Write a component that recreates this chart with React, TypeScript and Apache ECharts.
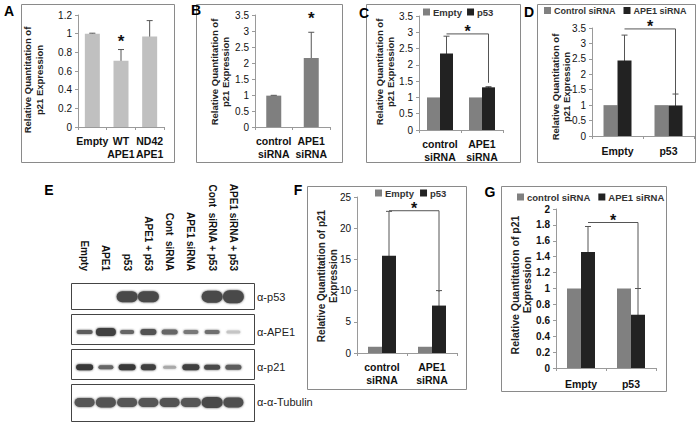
import React, { useEffect, useRef } from "react";
import * as echarts from "echarts";

const FONT = "'Liberation Sans', Arial, Helvetica, sans-serif";

// Panel A
const catsA = ["Empty", "WT\nAPE1", "ND42\nAPE1"];
const valsA = [1.0, 0.71, 0.97];
const loA = [0.995, 0.59, 0.8];
const hiA = [1.005, 0.83, 1.14];
// Panel B
const catsB = ["control\nsiRNA", "APE1\nsiRNA"];
const valsB = [0.98, 2.16];
const loB = [0.97, 1.36];
const hiB = [0.99, 2.96];
// Panel C
const catsC = ["control\nsiRNA", "APE1\nsiRNA"];
const emptyC = [1.0, 1.0];
const p53C = [2.35, 1.31];
const p53CLo = [1.82, 1.29];
const p53CHi = [2.88, 1.33];
// Panel D
const catsD = ["Empty", "p53"];
const ctrlD = [1.0, 1.0];
const apeD = [2.45, 0.99];
const apeDLo = [1.62, 0.62];
const apeDHi = [3.27, 1.36];
// Panel F
const catsF = ["control\nsiRNA", "APE1\nsiRNA"];
const emptyF = [1.0, 1.0];
const p53F = [15.6, 7.6];
const p53FLo = [8.4, 5.1];
const p53FHi = [22.7, 10.0];
// Panel G
const catsG = ["Empty", "p53"];
const ctrlG = [1.0, 1.0];
const apeG = [1.46, 0.67];
const apeGLo = [1.14, 0.34];
const apeGHi = [1.78, 1.0];

// Panel E (western blot)
const lanes = ["Empty", "APE1", "p53", "APE1 + p53", "Cont  siRNA", "APE1 siRNA", "Cont  siRNA + p53", "APE1 siRNA + p53"];
const blotRows = ["α-p53", "α-APE1", "α-p21", "α-α-Tubulin"];
// [lane, row, intensity, thickness, width]
const bands = [
  [2, 0, 0.85, 11, 21], [3, 0, 0.85, 11, 21], [6, 0, 0.85, 12, 21], [7, 0, 0.85, 13, 21],
  [0, 1, 0.75, 4, 16], [1, 1, 0.9, 8, 20], [2, 1, 0.7, 4, 14], [3, 1, 0.8, 6, 16],
  [4, 1, 0.7, 5, 16], [5, 1, 0.6, 4, 15], [6, 1, 0.65, 4, 15], [7, 1, 0.2, 3, 14],
  [0, 2, 0.95, 6, 17], [1, 2, 0.7, 4, 15], [2, 2, 0.95, 6, 17], [3, 2, 0.9, 6, 15],
  [4, 2, 0.35, 3, 13], [5, 2, 0.9, 6, 17], [6, 2, 0.85, 5, 16], [7, 2, 0.75, 5, 16],
  [0, 3, 0.78, 9, 20], [1, 3, 0.8, 10, 20], [2, 3, 0.78, 9, 20], [3, 3, 0.78, 9, 20],
  [4, 3, 0.8, 9, 20], [5, 3, 0.78, 9, 20], [6, 3, 0.85, 11, 21], [7, 3, 0.82, 10, 20],
];

const GRAY = "#808080";
const DARK = "#222222";
const ERR = "#555555";

function yAx(grid: number, max: number, interval: number, fs: number, bold = false) {
  return {
    type: "value", gridIndex: grid, min: 0, max, interval,
    axisLine: { show: true, lineStyle: { color: "#9a9a9a" } },
    axisTick: { show: true, length: 3, lineStyle: { color: "#9a9a9a" } },
    splitLine: { show: false },
    axisLabel: { fontSize: fs, color: "#111", margin: 6, fontFamily: FONT, fontWeight: bold ? "bold" : "normal" },
  };
}
function xAx(grid: number, data: string[], margin: number, fs = 10.5) {
  return {
    type: "category", gridIndex: grid, data,
    axisLine: { show: true, lineStyle: { color: "#9a9a9a" } },
    axisTick: { show: true, length: 3, lineStyle: { color: "#9a9a9a" } },
    axisLabel: { fontSize: fs, fontWeight: "bold", color: "#111", margin, lineHeight: 13, interval: 0, fontFamily: FONT },
  };
}
function bar(grid: number, name: string, data: number[], color: string, bw: number) {
  return {
    type: "bar", name, xAxisIndex: grid, yAxisIndex: grid, data, barWidth: bw, barGap: "0%",
    itemStyle: { color }, silent: true,
  };
}
function errs(grid: number, lo: number[], hi: number[], off: number) {
  return {
    type: "custom", xAxisIndex: grid, yAxisIndex: grid, silent: true,
    data: lo.map((l, i) => [i, l, hi[i]]),
    renderItem: (_p: any, api: any) => {
      const c = api.value(0);
      const a = api.coord([c, api.value(1)]);
      const b = api.coord([c, api.value(2)]);
      const x = a[0] + off;
      const st = { stroke: ERR, lineWidth: 1 };
      return {
        type: "group", children: [
          { type: "line", shape: { x1: x, y1: a[1], x2: x, y2: b[1] }, style: st },
          { type: "line", shape: { x1: x - 3, y1: b[1], x2: x + 3, y2: b[1] }, style: st },
          { type: "line", shape: { x1: x - 3, y1: a[1], x2: x + 3, y2: a[1] }, style: st },
        ],
      };
    },
  };
}
// bracket: [cat0, cat1, level, drop]
function bracket(grid: number, spec: number[], off: number) {
  return {
    type: "custom", xAxisIndex: grid, yAxisIndex: grid, silent: true,
    data: [spec],
    renderItem: (_p: any, api: any) => {
      const p0 = api.coord([api.value(0), api.value(2)]);
      const p1 = api.coord([api.value(1), api.value(2)]);
      const p2 = api.coord([api.value(1), api.value(3)]);
      const x0 = p0[0] + off, x1 = p1[0] + off;
      return {
        type: "group", children: [
          { type: "polyline", shape: { points: [[x0, p0[1]], [x1, p1[1]], [x1, p2[1]]] }, style: { stroke: ERR, lineWidth: 1, fill: null } },
          { type: "text", x: (x0 + x1) / 2, y: p0[1] - 2, style: { text: "*", fontSize: 16, fontWeight: "bold", fill: "#111", align: "center", verticalAlign: "middle", fontFamily: FONT } },
        ],
      };
    },
  };
}
function star(grid: number, cat: number, val: number) {
  return {
    type: "custom", xAxisIndex: grid, yAxisIndex: grid, silent: true,
    data: [[cat, val]],
    renderItem: (_p: any, api: any) => {
      const p = api.coord([api.value(0), api.value(1)]);
      return { type: "text", x: p[0], y: p[1], style: { text: "*", fontSize: 17, fontWeight: "bold", fill: "#111", align: "center", verticalAlign: "middle", fontFamily: FONT } };
    },
  };
}
function legend(left: number, top: number, data: string[], gap: number, fs = 10) {
  return {
    left, top, data, icon: "rect", itemWidth: 7, itemHeight: 7, itemGap: gap,
    selectedMode: false, padding: 0, width: 220, orient: "horizontal",
    textStyle: { fontSize: fs, fontWeight: "bold", color: "#333", fontFamily: FONT, padding: [0, 0, 0, -2] },
  };
}
function frame(x: number, y: number, w: number, h: number, stroke = "#8a8a8a") {
  return { type: "rect", shape: { x, y, width: w, height: h }, style: { fill: "none", stroke, lineWidth: 1 }, silent: true };
}
function letter(t: string, x: number, y: number) {
  return { type: "text", x, y, style: { text: t, fontSize: 14, fontWeight: "bold", fill: "#000", fontFamily: FONT, align: "center", verticalAlign: "middle" } };
}
function yName(t: string, x: number, y: number, fs: number) {
  return { type: "text", x, y, rotation: Math.PI / 2, style: { text: t, fontSize: fs, fontWeight: "bold", fill: "#222", fontFamily: FONT, align: "center", verticalAlign: "middle", lineHeight: fs + 2 } };
}

export default function App() {
  const ref = useRef<HTMLDivElement>(null);
  useEffect(() => {
    document.body.style.margin = "0";
    const chart = echarts.init(ref.current!, undefined, { renderer: "svg" });
    const option: any = {
      animation: false,
      backgroundColor: "#fff",
      textStyle: { fontFamily: FONT },
      grid: [
        { left: 78, top: 15, width: 86, height: 112 },   // A 0
        { left: 255, top: 15, width: 75, height: 112 },  // B 1
        { left: 419, top: 16, width: 84, height: 114 },  // C 2
        { left: 592, top: 28, width: 102, height: 108 }, // D 3
        { left: 357, top: 197, width: 100, height: 156 }, // F 4
        { left: 556, top: 209, width: 100, height: 159 }, // G 5
        { left: 74, top: 279, width: 170, height: 141 },  // E blot 6
      ],
      xAxis: [
        xAx(0, catsA, 7), xAx(1, catsB, 7), xAx(2, catsC, 7), xAx(3, catsD, 8),
        xAx(4, catsF, 7), xAx(5, catsG, 9),
        {
          type: "category", gridIndex: 6, data: lanes, position: "top",
          axisLine: { show: false }, axisTick: { show: false },
          axisLabel: { rotate: 90, interval: 0, fontSize: 10, fontWeight: "bold", color: "#111", margin: 8, fontFamily: FONT },
        },
      ],
      yAxis: [
        yAx(0, 1.2, 0.2, 10), yAx(1, 3.5, 0.5, 10), yAx(2, 3.5, 0.5, 10), yAx(3, 3.5, 0.5, 10),
        yAx(4, 25, 5, 10), yAx(5, 2, 0.2, 10, true),
        {
          type: "category", gridIndex: 6, data: blotRows, inverse: true, position: "right",
          axisLine: { show: false }, axisTick: { show: false }, splitLine: { show: false },
          axisLabel: { fontSize: 11, color: "#222", margin: 13, fontFamily: FONT },
        },
      ],
      legend: [
        legend(423, 7, ["Empty", "p53"], 5, 9.5),
        legend(544, 6, ["Control siRNA", "APE1 siRNA"], 8, 9),
        legend(375, 188, ["Empty", "p53"], 6, 9.5),
        legend(517, 192, ["control siRNA", "APE1 siRNA"], 8, 9.5),
      ],
      series: [
        bar(0, "A", valsA, "#c0c0c0", 15), errs(0, loA, hiA, 0), star(0, 1, 0.92),
        bar(1, "B", valsB, "#7f7f7f", 15), errs(1, loB, hiB, 0), star(1, 1, 3.4),
        bar(2, "Empty", emptyC, GRAY, 13), bar(2, "p53", p53C, DARK, 13), errs(2, p53CLo, p53CHi, 6.5),
        bracket(2, [0, 1, 2.95, 1.45], 6.5),
        bar(3, "Control siRNA", ctrlD, GRAY, 14), bar(3, "APE1 siRNA", apeD, DARK, 14), errs(3, apeDLo, apeDHi, 7),
        bracket(3, [0, 1, 3.47, 1.35], 7),
        bar(4, "Empty", emptyF, GRAY, 14), bar(4, "p53", p53F, DARK, 14), errs(4, p53FLo, p53FHi, 7),
        bracket(4, [0, 1, 22.8, 9.8], 7),
        bar(5, "control siRNA", ctrlG, GRAY, 14), bar(5, "APE1 siRNA", apeG, DARK, 14), errs(5, apeGLo, apeGHi, 7),
        bracket(5, [0, 1, 1.83, 1.0], 7),
        {
          type: "custom", xAxisIndex: 6, yAxisIndex: 6, silent: true, data: bands,
          renderItem: (_p: any, api: any) => {
            const c = api.coord([api.value(0), api.value(1)]);
            const i = api.value(2), t = api.value(3), w = api.value(4);
            const v = Math.round(235 - i * 190);
            const col = `rgb(${v},${v},${v})`;
            return {
              type: "rect",
              shape: { x: c[0] - w / 2, y: c[1] - t / 2, width: w, height: t, r: t / 2 },
              style: { fill: col, shadowBlur: 2, shadowColor: col },
            };
          },
        },
      ],
      graphic: [
        frame(21.5, 4.5, 153, 158), frame(196.5, 4.5, 146, 158), frame(366.5, 4.5, 154, 158), frame(537.5, 4.5, 158, 158),
        frame(307.5, 186.5, 159, 203), frame(501.5, 186.5, 165, 205),
        frame(71.5, 283.5, 183, 26, "#444"), frame(71.5, 314.5, 183, 30, "#444"),
        frame(71.5, 349.5, 183, 30, "#444"), frame(71.5, 384.5, 183, 37, "#444"),
        letter("A", 9, 11), letter("B", 196, 10), letter("C", 364, 13), letter("D", 529, 12),
        letter("E", 49, 190), letter("F", 298, 190), letter("G", 490, 192),
        yName("Relative Quantitation of\np21 Expression", 33.5, 80, 9.5),
        yName("Relative Quantitation of\np21 Expression", 220, 72, 9.5),
        yName("Relative Quantitation of\np21 Expression", 385, 72, 9.5),
        yName("Relative Quantitation of\np21 Expression", 561, 87, 9.5),
        yName("Relative Quantitation of p21\nExpression", 327, 276, 10),
        yName("Relative Quantitation of p21\nExpression", 521, 285, 10.5),
      ],
    };
    chart.setOption(option);
    return () => chart.dispose();
  }, []);
  return <div ref={ref} style={{ position: "absolute", left: 0, top: 0, width: 699, height: 426, background: "#fff" }} />;
}
